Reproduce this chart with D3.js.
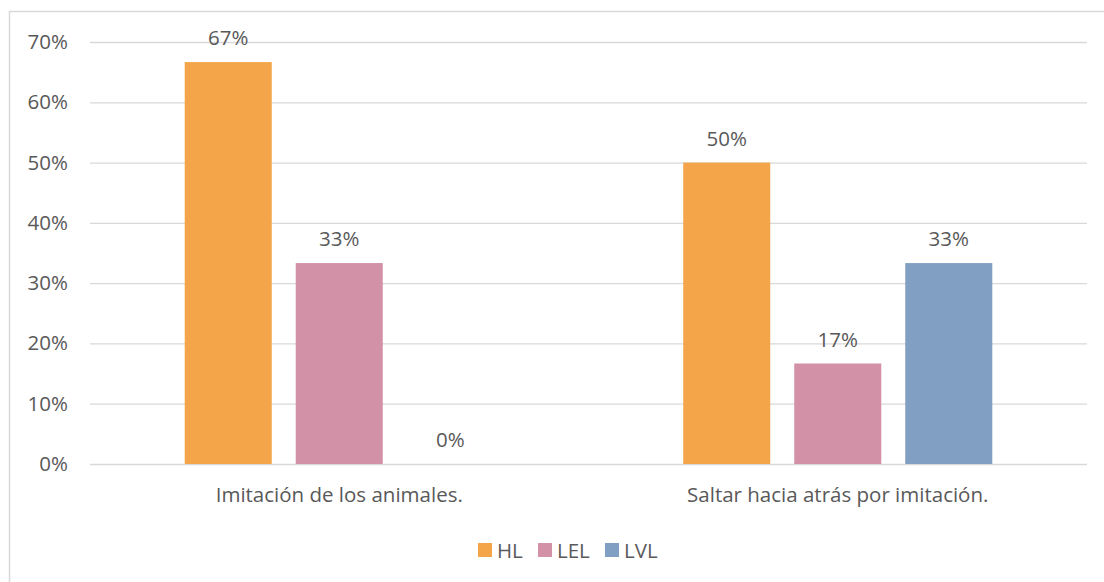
<!DOCTYPE html>
<html>
<head>
<meta charset="utf-8">
<script src="https://cdn.jsdelivr.net/npm/d3@7"></script>
<style>
  html, body { margin: 0; padding: 0; background: #fff; }
  svg { display: block; font-family: "Open Sans", sans-serif; }
</style>
</head>
<body>
<div id="chart"></div>
<script>
// ---------------- data ----------------
const categories = ["Imitación de los animales.", "Saltar hacia atrás por imitación."];
const seriesNames = ["HL", "LEL", "LVL"];
const seriesColors = ["#F4A549", "#D291A6", "#809FC3"];
const hlValues = [0.6667, 0.50];
const lelValues = [0.3333, 0.1667];
const lvlValues = [0, 0.3333];
const yTicks = [0, 0.1, 0.2, 0.3, 0.4, 0.5, 0.6, 0.7];

const seriesValues = [hlValues, lelValues, lvlValues];

// ---------------- layout ----------------
const width = 1104, height = 582;
const margin = { top: 42, right: 17, bottom: 118, left: 90 };
const textColor = "#595959";
const gridColor = "#d9d9d9";
const fontSize = "20.5px";

const svg = d3.select("#chart").append("svg")
  .attr("width", width)
  .attr("height", height);

// chart frame (extends past right / bottom edge)
svg.append("rect")
  .attr("x", 9.5).attr("y", 11.5)
  .attr("width", width + 10).attr("height", height + 10)
  .attr("fill", "none")
  .attr("stroke", gridColor)
  .attr("stroke-width", 1.5);

const g = svg.append("g").attr("transform", `translate(${margin.left},${margin.top})`);
const innerW = width - margin.left - margin.right;
const innerH = height - margin.top - margin.bottom;

// ---------------- scales ----------------
const x0 = d3.scaleBand().domain(categories).range([0, innerW]).padding(0);
const outer = x0.bandwidth() * 0.19;
const x1 = d3.scaleBand().domain(seriesNames)
  .range([outer, x0.bandwidth() - outer])
  .paddingInner(0.216).paddingOuter(0);
const y = d3.scaleLinear().domain([0, 0.7]).range([innerH, 0]);

// ---------------- axis + grid ----------------
const yAxis = g.append("g")
  .call(d3.axisLeft(y).tickValues(yTicks).tickSize(-innerW).tickPadding(22)
    .tickFormat(d3.format(".0%")));
yAxis.select(".domain").remove();
yAxis.selectAll(".tick line").attr("stroke", gridColor).attr("stroke-width", 1.3);
yAxis.selectAll(".tick text")
  .attr("fill", textColor)
  .style("font-size", fontSize)
  .style("font-family", "'Open Sans', sans-serif");

// ---------------- bars ----------------
const rows = [];
categories.forEach((c, ci) => {
  seriesNames.forEach((s, si) => {
    rows.push({ cat: c, name: s, value: seriesValues[si][ci], color: seriesColors[si] });
  });
});

const groups = g.selectAll(".bar")
  .data(rows)
  .join("g")
  .attr("class", "bar")
  .attr("transform", d => `translate(${x0(d.cat) + x1(d.name)},0)`);

groups.append("rect")
  .attr("x", 0)
  .attr("y", d => y(d.value))
  .attr("width", x1.bandwidth())
  .attr("height", d => innerH - y(d.value))
  .attr("fill", d => d.color);

groups.append("text")
  .attr("x", x1.bandwidth() / 2)
  .attr("y", d => y(d.value) - 17)
  .attr("text-anchor", "middle")
  .attr("fill", textColor)
  .style("font-size", fontSize)
  .text(d => d3.format(".0%")(d.value));

// ---------------- category labels ----------------
g.selectAll(".cat")
  .data(categories)
  .join("text")
  .attr("class", "cat")
  .attr("x", d => x0(d) + x0.bandwidth() / 2)
  .attr("y", innerH + 38)
  .attr("text-anchor", "middle")
  .attr("fill", textColor)
  .style("font-size", fontSize)
  .text(d => d);

// ---------------- legend ----------------
const legendX = [478, 538, 605];
const legend = svg.selectAll(".legend")
  .data(seriesNames)
  .join("g")
  .attr("class", "legend")
  .attr("transform", (d, i) => `translate(${legendX[i]},543)`);

legend.append("rect")
  .attr("width", 14).attr("height", 14)
  .attr("fill", (d, i) => seriesColors[i]);

legend.append("text")
  .attr("x", 19).attr("y", 14.5)
  .attr("fill", textColor)
  .style("font-size", fontSize)
  .text(d => d);
</script>
</body>
</html>
